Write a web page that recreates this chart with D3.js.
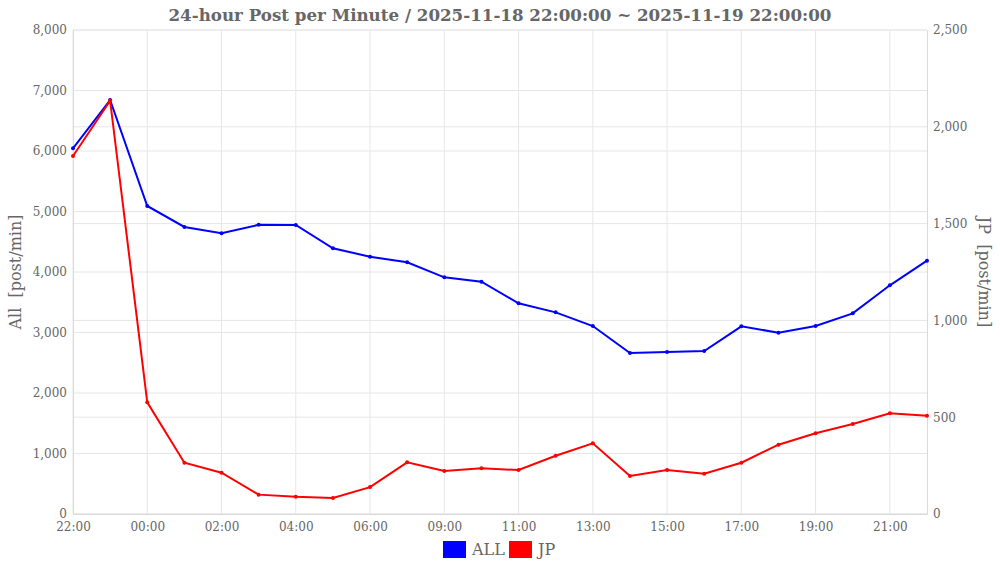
<!DOCTYPE html>
<html lang="en">
<head>
    <meta charset="utf-8">
    <script src="https://cdn.jsdelivr.net/npm/d3@7"></script>
    <style>
        body { margin: 0; background: #fff; }
        text { font-family: "DejaVu Serif", serif; fill: #666; }
        .grid line { stroke: #e6e6e6; stroke-width: 1; }
        .axis path, .axis line { stroke: #d9d9d9; }
    </style>
</head>
<body>
<script type="text/javascript">
    // categories (hourly) and series values
    var hours = ["22:00", "23:00", "00:00", "01:00", "02:00", "03:00", "04:00", "05:00", "06:00", "07:00",
        "09:00", "10:00", "11:00", "12:00", "13:00", "14:00", "15:00", "16:00", "17:00", "18:00",
        "19:00", "20:00", "21:00", "22:00 "];
    var allPosts = [6045, 6843, 5091, 4744, 4640, 4780, 4777, 4391, 4253, 4160,
        3912, 3840, 3482, 3333, 3107, 2661, 2678, 2694, 3102, 2997,
        3107, 3317, 3780, 4187];
    var jpPosts = [1849, 2135, 577, 265, 213, 100, 89, 83, 139, 267,
        222, 236, 227, 301, 365, 196, 227, 208, 265, 358,
        417, 465, 520, 508];
    var leftTicks = [0, 1000, 2000, 3000, 4000, 5000, 6000, 7000, 8000];
    var rightTicks = [0, 500, 1000, 1500, 2000, 2500];

    var width = 1000, height = 563;
    var margin = {top: 30, right: 73, bottom: 49, left: 73};
    var plotW = width - margin.left - margin.right;
    var plotH = height - margin.top - margin.bottom;

    var svg = d3.select("body").append("svg")
        .attr("width", width)
        .attr("height", height);

    var g = svg.append("g")
        .attr("transform", "translate(" + margin.left + "," + margin.top + ")");

    var x = d3.scalePoint().domain(hours).range([0, plotW]).padding(0);
    var yL = d3.scaleLinear().domain([0, 8000]).range([plotH, 0]);
    var yR = d3.scaleLinear().domain([0, 2500]).range([plotH, 0]);
    var fmt = d3.format(",");

    // grid lines
    var grid = g.append("g").attr("class", "grid");
    grid.selectAll(".gx")
        .data(hours.filter(function (d, i) { return i % 2 === 0; }))
        .enter().append("line")
        .attr("x1", function (d) { return x(d); })
        .attr("x2", function (d) { return x(d); })
        .attr("y1", 0).attr("y2", plotH);
    grid.selectAll(".gl")
        .data(leftTicks)
        .enter().append("line")
        .attr("x1", 0).attr("x2", plotW)
        .attr("y1", function (d) { return yL(d); })
        .attr("y2", function (d) { return yL(d); });
    grid.selectAll(".gr")
        .data(rightTicks)
        .enter().append("line")
        .attr("x1", 0).attr("x2", plotW)
        .attr("y1", function (d) { return yR(d); })
        .attr("y2", function (d) { return yR(d); });

    // axes
    g.append("g").attr("class", "axis")
        .call(d3.axisLeft(yL).tickValues(leftTicks).tickFormat(fmt).tickSize(0).tickPadding(6))
        .selectAll("text").style("font-size", "12px");
    g.append("g").attr("class", "axis")
        .attr("transform", "translate(" + plotW + ",0)")
        .call(d3.axisRight(yR).tickValues(rightTicks).tickFormat(fmt).tickSize(0).tickPadding(6))
        .selectAll("text").style("font-size", "12px");
    g.append("g").attr("class", "axis")
        .attr("transform", "translate(0," + plotH + ")")
        .call(d3.axisBottom(x)
            .tickValues(hours.filter(function (d, i) { return i % 2 === 0; }))
            .tickSize(0).tickPadding(8))
        .selectAll("text").style("font-size", "12px");
    g.selectAll(".axis text").attr("fill", "#666");

    // lines
    var series = [
        {name: "ALL", values: allPosts, y: yL, color: "#0000ff"},
        {name: "JP", values: jpPosts, y: yR, color: "#ff0000"}
    ];
    series.forEach(function (s) {
        var line = d3.line()
            .x(function (d, i) { return x(hours[i]); })
            .y(function (d) { return s.y(d); });
        g.append("path")
            .datum(s.values)
            .attr("fill", "none")
            .attr("stroke", s.color)
            .attr("stroke-width", 2)
            .attr("d", line);
        g.selectAll(".pt-" + s.name)
            .data(s.values)
            .enter().append("circle")
            .attr("cx", function (d, i) { return x(hours[i]); })
            .attr("cy", function (d) { return s.y(d); })
            .attr("r", 2)
            .attr("fill", s.color);
    });

    // title
    svg.append("text")
        .attr("x", margin.left + plotW / 2)
        .attr("y", 21)
        .attr("text-anchor", "middle")
        .style("font-size", "16.7px")
        .style("font-weight", "bold")
        .text("24-hour Post per Minute / 2025-11-18 22:00:00 ~ 2025-11-19 22:00:00");

    // axis titles
    svg.append("text")
        .attr("transform", "translate(21," + (margin.top + plotH / 2) + ") rotate(-90)")
        .attr("text-anchor", "middle")
        .style("font-size", "16px")
        .style("white-space", "pre")
        .text("All  [post/min]");
    svg.append("text")
        .attr("transform", "translate(979," + (margin.top + plotH / 2) + ") rotate(90)")
        .attr("text-anchor", "middle")
        .style("font-size", "16px")
        .style("white-space", "pre")
        .text("JP  [post/min]");

    // legend
    var legend = svg.append("g").attr("transform", "translate(443,541)");
    var lx = [0, 66];
    series.forEach(function (s, i) {
        legend.append("rect")
            .attr("x", lx[i]).attr("y", 0)
            .attr("width", 23).attr("height", 17)
            .attr("fill", s.color);
        legend.append("text")
            .attr("x", lx[i] + 29).attr("y", 14)
            .style("font-size", "16px")
            .text(s.name);
    });
</script>
</body>
</html>
